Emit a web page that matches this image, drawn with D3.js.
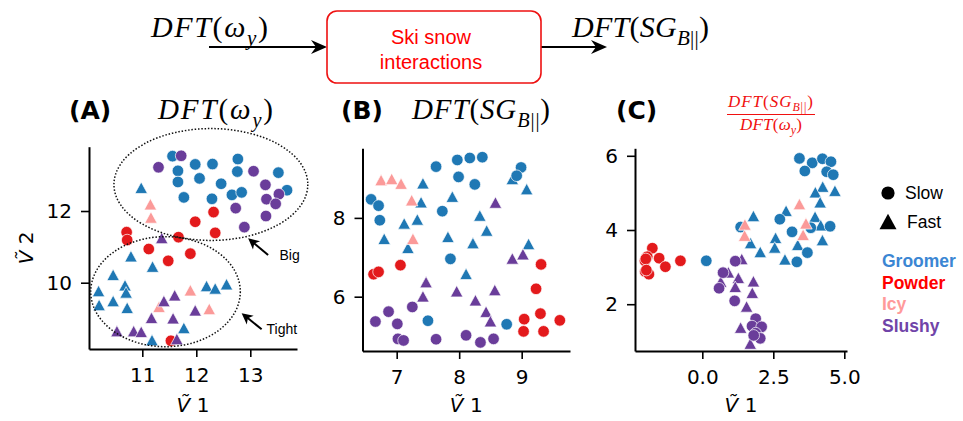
<!DOCTYPE html>
<html>
<head>
<meta charset="utf-8">
<script src="https://cdn.jsdelivr.net/npm/d3@7"></script>
<style>
  body { margin: 0; background: #fff; }
  svg { display: block; }
</style>
</head>
<body>
<div id="chart"></div>
<script>
// ---- data (V~1, V~2 embedding coordinates) ----

// (A) DFT(wy)
const aGroomerSlow = [[11.56,13.53],[11.98,13.30],[12.30,13.31],[12.77,13.45],[12.76,13.10],[11.66,13.12],[11.66,12.81],[12.06,12.91],[12.46,12.76],[13.52,13.07],[11.77,12.38],[12.29,12.34],[12.66,12.45],[12.84,12.52],[13.68,12.58]];
const aGroomerFast = [[10.98,12.65],[10.79,10.74],[11.19,10.45],[10.46,10.22],[10.68,9.93],[10.70,9.73],[10.19,9.77],[10.20,9.38],[10.46,9.49],[10.72,9.30],[12.19,9.91],[12.35,9.84],[12.56,9.96],[11.77,8.74],[11.18,8.40]];
const aPowderSlow = [[12.32,11.97],[11.98,11.70],[12.35,11.39],[10.71,11.41],[10.72,11.19],[11.67,11.27],[11.12,10.94],[11.48,10.61],[11.89,10.81],[11.53,8.38]];
const aIcyFast = [[11.15,12.19],[11.16,11.82],[11.89,9.79],[11.31,9.33],[12.24,9.27]];
const aSlushySlow = [[11.72,13.54],[11.30,13.22],[13.06,13.11],[13.28,12.73],[13.53,12.47],[13.30,12.33],[13.47,12.20],[12.73,12.08],[13.29,11.86],[12.89,11.55]];
const aSlushyFast = [[11.36,11.25],[11.60,9.65],[11.40,9.49],[11.98,9.23],[11.57,9.01],[11.17,9.02],[10.53,8.65],[10.84,8.65],[10.98,8.63],[11.64,8.43]];

// (B) DFT(SG_B||)
const bGroomerSlow = [[7.63,9.30],[7.97,9.47],[8.17,9.52],[8.37,9.54],[8.99,9.28],[8.92,9.07],[7.99,9.04],[8.25,8.85],[6.59,8.47],[6.71,8.31],[6.73,7.94],[7.73,8.17],[7.86,6.96],[7.50,5.39],[8.76,5.30]];
const bGroomerFast = [[7.42,8.88],[8.85,8.99],[9.08,8.73],[7.89,8.54],[7.39,8.40],[7.33,7.96],[7.12,7.86],[8.33,8.06],[6.80,7.47],[7.82,7.52],[8.44,7.68],[8.22,7.36],[9.11,7.34],[7.18,7.24],[8.11,6.58]];
const bPowderSlow = [[6.63,6.57],[6.71,6.63],[7.06,6.80],[9.31,6.82],[9.23,6.20],[9.30,5.57],[9.04,5.43],[9.61,5.40],[9.03,5.12],[9.35,5.12]];
const bIcyFast = [[6.75,8.96],[6.92,8.99],[7.07,8.87],[7.24,8.45],[7.26,7.47]];
const bSlushySlow = [[6.87,5.62],[7.25,5.74],[6.66,5.37],[7.01,5.31],[7.02,4.93],[7.11,4.89],[7.63,4.92],[8.11,5.02],[8.34,4.84],[8.55,4.93]];
const bSlushyFast = [[8.58,8.39],[8.85,6.97],[9.02,7.08],[7.47,6.37],[7.42,6.01],[7.96,6.14],[8.57,6.17],[8.26,5.91],[8.43,5.62],[8.50,5.38]];

// (C) ratio
const cGroomerSlow = [[3.42,5.93],[3.87,5.81],[4.23,5.92],[4.53,5.84],[3.61,5.59],[4.38,5.57],[4.61,5.49],[2.73,4.29],[1.35,4.08],[3.16,3.95],[3.82,4.06],[4.50,4.10],[3.70,3.39],[3.33,3.14],[0.14,3.17]];
const cGroomerFast = [[4.24,5.17],[3.98,5.02],[4.67,5.06],[4.15,4.75],[2.95,4.52],[1.80,4.38],[3.97,4.36],[4.17,4.13],[2.58,3.79],[1.70,3.65],[4.23,3.73],[3.36,3.60],[2.04,3.41],[2.55,3.53],[2.91,3.21]];
const cPowderSlow = [[-1.76,3.51],[-1.94,3.28],[-2.02,3.17],[-1.52,3.24],[-1.30,3.01],[-0.77,3.17],[-2.01,2.88],[-1.88,2.81],[-1.99,3.22],[-1.97,2.92]];
const cIcyFast = [[3.42,4.70],[1.50,4.15],[3.65,4.18],[1.49,3.85],[3.55,3.87]];
const cSlushySlow = [[1.16,3.16],[0.73,2.85],[0.59,2.43],[1.14,2.09],[1.88,1.61],[1.75,1.41],[2.09,1.39],[1.88,1.22],[2.04,1.08],[1.81,1.16]];
const cSlushyFast = [[1.39,3.22],[0.92,2.86],[0.65,2.61],[1.27,2.71],[1.16,2.47],[1.80,2.62],[1.76,2.31],[1.56,1.94],[1.35,1.37],[1.69,0.94]];

// tick values / labels
const aXTicks = [11, 12, 13], aYTicks = [10, 12];
const bXTicks = [7, 8, 9], bYTicks = [6, 8];
const cXTicks = [0, 2.5, 5], cYTicks = [2, 4, 6];

// ellipses in panel A: [cx, cy, width, height] in data units, plus annotation arrows
const aEllipses = [[12.27, 12.74, 3.59, 3.12], [11.43, 9.75, 2.77, 3.07]];
const aNotes = [
  { label: "Big",   tip: [12.96, 11.24], tail: [13.33, 10.77], text: [13.54, 10.77] },
  { label: "Tight", tip: [12.84, 9.15],  tail: [13.21, 8.70],  text: [13.30, 8.70] }
];

const surfaces = ["Groomer", "Powder", "Icy", "Slushy"];
const colors = { Groomer: "#1f78b4", Powder: "#e31a1c", Icy: "#fb9a99", Slushy: "#6a3d9a" };
const legendColors = { Groomer: "#3b86d3", Powder: "#ff0000", Icy: "#ff9a9a", Slushy: "#7044a8" };

// ---- layout ----
const width = 963, height = 421;
const svg = d3.select("#chart").append("svg")
  .attr("width", width).attr("height", height);

const panels = [
  { tag: "(A)", tagX: 69, px: [89, 297], py: [349, 146.7], xd: [10.013, 13.865], yd: [8.151, 13.794],
    xt: aXTicks, yt: aYTicks, fmt: d3.format("d"), ylabel: true,
    series: [[aGroomerFast, "Groomer", "tri"], [aGroomerSlow, "Groomer", "dot"], [aPowderSlow, "Powder", "dot"],
             [aIcyFast, "Icy", "tri"], [aSlushyFast, "Slushy", "tri"], [aSlushySlow, "Slushy", "dot"]] },
  { tag: "(B)", tagX: 341, px: [362.5, 570], py: [351, 148.3], xd: [6.453, 9.773], yd: [4.622, 9.766],
    xt: bXTicks, yt: bYTicks, fmt: d3.format("d"),
    series: [[bGroomerFast, "Groomer", "tri"], [bGroomerSlow, "Groomer", "dot"], [bPowderSlow, "Powder", "dot"],
             [bIcyFast, "Icy", "tri"], [bSlushyFast, "Slushy", "tri"], [bSlushySlow, "Slushy", "dot"]] },
  { tag: "(C)", tagX: 616, px: [635, 847], py: [351, 148.3], xd: [-2.370, 5.095], yd: [0.739, 6.202],
    xt: cXTicks, yt: cYTicks, fmt: d3.format(".1f"),
    series: [[cGroomerFast, "Groomer", "tri"], [cGroomerSlow, "Groomer", "dot"], [cPowderSlow, "Powder", "dot"],
             [cIcyFast, "Icy", "tri"], [cSlushyFast, "Slushy", "tri"], [cSlushySlow, "Slushy", "dot"]] }
];
panels.forEach(p => { p.yfmt = d3.format("d"); });

// triangle marker ("^"), size = width in px
const triangle = {
  draw(ctx, size) {
    const w = size / 2, h = size * 0.46;
    ctx.moveTo(0, -h);
    ctx.lineTo(w, h);
    ctx.lineTo(-w, h);
    ctx.closePath();
  }
};

// math-like text (DFT(...)) built from tspans
function mathText(g, x, y, size, parts, len, color) {
  const t = g.append("text")
    .attr("x", x).attr("y", y)
    .attr("font-family", "'Liberation Serif', 'DejaVu Serif', serif")
    .attr("font-size", size)
    .attr("fill", color || "#000");
  let shift = 0;
  parts.forEach(([str, kind]) => {
    const sub = kind === "s" || kind === "sr";
    const target = sub ? size * 0.26 : 0;
    t.append("tspan")
      .attr("dy", target - shift)
      .attr("font-size", sub ? size * 0.7 : size)
      .attr("font-style", kind === "r" || kind === "sr" ? "normal" : "italic")
      .text(str);
    shift = target;
  });
  if (len) t.attr("textLength", len).attr("lengthAdjust", "spacing");
  return t;
}

const omegaParts = [["DFT", "i"], ["(", "r"], ["ω", "i"], ["y", "s"], [")", "r"]];
const sgParts = [["DFT", "i"], ["(", "r"], ["SG", "i"], ["B", "s"], ["||", "sr"], [")", "r"]];

// ---- top block diagram ----
const diagram = svg.append("g");
mathText(diagram, 151, 37, 30, omegaParts, 117);
mathText(diagram, 572, 37, 30, sgParts, 137);

function arrow(g, x0, x1, y) {
  g.append("line").attr("x1", x0).attr("x2", x1 - 8).attr("y1", y).attr("y2", y)
    .attr("stroke", "#000").attr("stroke-width", 2);
  g.append("path")
    .attr("d", `M${x1},${y}L${x1 - 16},${y - 7}L${x1 - 11},${y}L${x1 - 16},${y + 7}Z`)
    .attr("fill", "#000");
}
arrow(diagram, 209, 327, 47);
arrow(diagram, 541, 607, 47);

diagram.append("rect")
  .attr("x", 327).attr("y", 11).attr("width", 214).attr("height", 72).attr("rx", 10)
  .attr("fill", "#fff").attr("stroke", "#ee1111").attr("stroke-width", 1.6);
diagram.append("text").attr("x", 431).attr("y", 44).attr("text-anchor", "middle")
  .attr("font-family", "'Liberation Sans', Arial, sans-serif").attr("font-size", 20)
  .attr("fill", "#ff0000").text("Ski snow");
diagram.append("text").attr("x", 431).attr("y", 69).attr("text-anchor", "middle")
  .attr("font-family", "'Liberation Sans', Arial, sans-serif").attr("font-size", 20)
  .attr("fill", "#ff0000").text("interactions");

// ---- scatter panels ----
panels.forEach(p => {
  const x = d3.scaleLinear().domain(p.xd).range(p.px);
  const y = d3.scaleLinear().domain(p.yd).range(p.py);
  const g = svg.append("g");
  p.x = x; p.y = y; p.g = g;

  p.series.forEach(([pts, surf, shape]) => {
    const sym = d3.symbol().type(shape === "tri" ? triangle : d3.symbolCircle)
      .size(shape === "tri" ? 12.5 : Math.PI * 5.8 * 5.8);
    g.selectAll(null).data(pts).enter().append("path")
      .attr("d", sym)
      .attr("transform", d => `translate(${x(d[0])},${y(d[1])})`)
      .attr("fill", colors[surf])
      .attr("stroke", "#fff").attr("stroke-width", 0.7);
  });

  const xAxis = g.append("g").attr("transform", `translate(0,${p.py[0]})`)
    .call(d3.axisBottom(x).tickValues(p.xt).tickFormat(p.fmt).tickSize(8).tickSizeOuter(0).tickPadding(11));
  const yAxis = g.append("g").attr("transform", `translate(${p.px[0]},0)`)
    .call(d3.axisLeft(y).tickValues(p.yt).tickFormat(p.yfmt).tickSize(8).tickSizeOuter(0).tickPadding(9));
  [xAxis, yAxis].forEach(a => {
    a.attr("font-family", "'DejaVu Sans', sans-serif").attr("font-size", 20);
    a.select(".domain").attr("stroke", "#000").attr("stroke-width", 2);
    a.selectAll(".tick line").attr("stroke", "#000").attr("stroke-width", 1.6);
    a.selectAll(".tick text").attr("fill", "#000");
  });

  // axis labels  V~ 1 / V~ 2
  const xl = g.append("text")
    .attr("x", (p.px[0] + p.px[1]) / 2).attr("y", 412).attr("text-anchor", "middle")
    .attr("font-family", "'DejaVu Sans', sans-serif").attr("font-size", 20);
  xl.append("tspan").attr("font-style", "italic").text("V\u0303");
  xl.append("tspan").text(" 1");
  if (p.ylabel) {
    const yl = g.append("text")
      .attr("transform", `translate(33,${(p.py[0] + p.py[1]) / 2}) rotate(-90)`)
      .attr("text-anchor", "middle")
      .attr("font-family", "'DejaVu Sans', sans-serif").attr("font-size", 20);
    yl.append("tspan").attr("font-style", "italic").text("V\u0303");
    yl.append("tspan").text(" 2");
  }

  g.append("text").attr("x", p.tagX).attr("y", 119)
    .attr("font-family", "'DejaVu Sans', sans-serif").attr("font-weight", "bold")
    .attr("font-size", 25).text(p.tag);
});

// panel titles
mathText(svg, 158, 119, 29, omegaParts, 115);
mathText(svg, 412, 119, 29, sgParts, 138);
mathText(svg, 728, 107, 17, sgParts, 85, "#f01010");
svg.append("line").attr("x1", 727).attr("x2", 815).attr("y1", 114.5).attr("y2", 114.5)
  .attr("stroke", "#f01010").attr("stroke-width", 1);
mathText(svg, 740, 130, 17, omegaParts, 62, "#f01010");

// ellipses + arrows in (A)
const pa = panels[0];
pa.g.selectAll(null).data(aEllipses).enter().append("ellipse")
  .attr("cx", d => pa.x(d[0])).attr("cy", d => pa.y(d[1]))
  .attr("rx", d => (pa.x(d[0] + d[2] / 2) - pa.x(d[0])))
  .attr("ry", d => (pa.y(d[1]) - pa.y(d[1] + d[3] / 2)))
  .attr("fill", "none").attr("stroke", "#111").attr("stroke-width", 1.5)
  .attr("stroke-dasharray", "1.5,1.8");

aNotes.forEach(n => {
  const [tx, ty] = [pa.x(n.tip[0]), pa.y(n.tip[1])];
  const [sx, sy] = [pa.x(n.tail[0]), pa.y(n.tail[1])];
  const ang = Math.atan2(ty - sy, tx - sx);
  const ux = Math.cos(ang), uy = Math.sin(ang);
  const L = 11, Wd = 5.5;
  pa.g.append("line").attr("x1", sx).attr("y1", sy).attr("x2", tx - ux * 7).attr("y2", ty - uy * 7)
    .attr("stroke", "#000").attr("stroke-width", 2);
  const bx = tx - ux * L, by = ty - uy * L;
  const nx = tx - ux * (L - 3), ny = ty - uy * (L - 3);
  pa.g.append("path")
    .attr("d", `M${tx},${ty}L${bx - uy * Wd},${by + ux * Wd}L${nx},${ny}L${bx + uy * Wd},${by - ux * Wd}Z`)
    .attr("fill", "#000");
  pa.g.append("text").attr("x", pa.x(n.text[0])).attr("y", pa.y(n.text[1]) + 5)
    .attr("font-family", "'Liberation Sans', Arial, sans-serif").attr("font-size", 14)
    .text(n.label);
});

// ---- legend ----
const lg = svg.append("g").attr("font-family", "'Liberation Sans', Arial, sans-serif");
lg.append("path").attr("d", d3.symbol().type(d3.symbolCircle).size(Math.PI * 6.6 * 6.6))
  .attr("transform", "translate(888,193)").attr("fill", "#000");
lg.append("text").attr("x", 905).attr("y", 199).attr("font-size", 17.5).text("Slow");
lg.append("path").attr("d", d3.symbol().type(triangle).size(17))
  .attr("transform", "translate(888,221.5)").attr("fill", "#000");
lg.append("text").attr("x", 907).attr("y", 227.5).attr("font-size", 17.5).text("Fast");
lg.selectAll(null).data(surfaces).enter().append("text")
  .attr("x", 882).attr("y", (d, i) => 267 + i * 21.5)
  .attr("font-size", 17.5).attr("font-weight", "bold")
  .attr("fill", d => legendColors[d]).text(d => d);
</script>
</body>
</html>
